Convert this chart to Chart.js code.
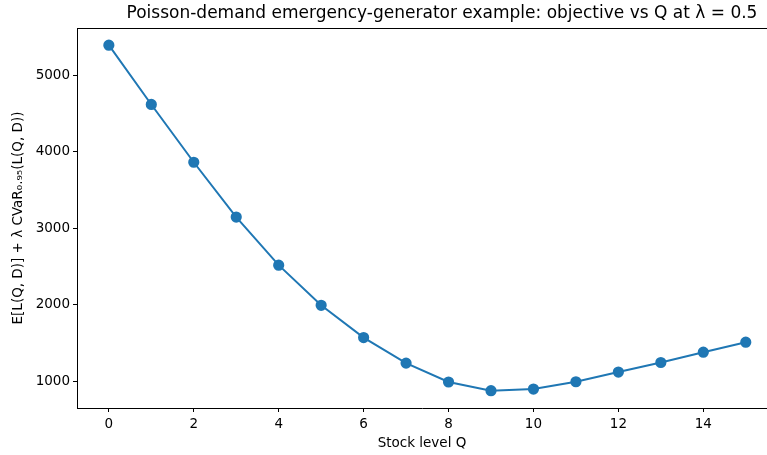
<!DOCTYPE html>
<html>
<head>
<meta charset="utf-8">
<script src="https://cdn.jsdelivr.net/npm/chart.js@4"></script>
<style>
  body { margin: 0; background: #fff; overflow: hidden; }
  #wrap { width: 767px; height: 455px; }
</style>
</head>
<body>
<div id="wrap"><canvas id="objective-chart"></canvas></div>
<script>
const stockLevels = [0, 1, 2, 3, 4, 5, 6, 7, 8, 9, 10, 11, 12, 13, 14, 15];
const objective = [5395, 4620, 3864, 3147, 2518, 1993, 1571, 1237, 990, 876, 898, 993, 1120, 1245, 1380, 1511];
const xTicks = [0, 2, 4, 6, 8, 10, 12, 14];
const yTicks = [1000, 2000, 3000, 4000, 5000];

const titleText = "Poisson-demand emergency-generator example: objective vs Q at λ = 0.5";
const fontFamily = "'DejaVu Sans', sans-serif";

// title sits over the (wider) matplotlib axes, and the top spine
const framePlugin = {
  id: "frame",
  afterDraw(chart) {
    const { ctx, chartArea } = chart;
    ctx.save();
    ctx.strokeStyle = "#000";
    ctx.lineWidth = 1;
    ctx.beginPath();
    ctx.moveTo(chartArea.left, chartArea.top + 0.5);
    ctx.lineTo(chartArea.right, chartArea.top + 0.5);
    ctx.stroke();
    ctx.fillStyle = "#000";
    ctx.font = "17px " + fontFamily;
    ctx.textAlign = "center";
    ctx.textBaseline = "middle";
    ctx.fillText(titleText, 442, 14);
    ctx.restore();
  },
};

const ctx = document.getElementById("objective-chart");

new Chart(ctx, {
  type: "line",
  data: {
    datasets: [
      {
        data: stockLevels.map((q, i) => ({ x: q, y: objective[i] })),
        borderColor: "#1f77b4",
        backgroundColor: "#1f77b4",
        borderWidth: 2,
        pointRadius: 4.6,
        pointHoverRadius: 4.6,
        fill: false,
        tension: 0,
      },
    ],
  },
  options: {
    responsive: true,
    maintainAspectRatio: false,
    animation: false,
    layout: { autoPadding: false, padding: { top: 28, right: 0, left: 0, bottom: 0 } },
    plugins: {
      legend: { display: false },
      title: { display: false },
      tooltip: { enabled: false },
    },
    scales: {
      x: {
        type: "linear",
        min: -0.75,
        max: 15.5,
        afterBuildTicks: (scale) => { scale.ticks = xTicks.map((v) => ({ value: v })); },
        afterFit: (scale) => {
          scale.height = 47;
          scale.paddingLeft = 0;
          scale.paddingRight = 0;
        },
        grid: { drawOnChartArea: false, drawTicks: true, tickLength: 4, color: "#000" },
        border: { display: true, color: "#000", width: 1 },
        ticks: { color: "#000", font: { family: fontFamily, size: 13.5 }, padding: 4, maxRotation: 0 },
        title: {
          display: true,
          text: "Stock level Q",
          color: "#000",
          font: { family: fontFamily, size: 13.5 },
          padding: { top: 2, bottom: 3 },
        },
      },
      y: {
        min: 650,
        max: 5620,
        afterBuildTicks: (scale) => { scale.ticks = yTicks.map((v) => ({ value: v })); },
        afterFit: (scale) => { scale.width = 77; },
        grid: { drawOnChartArea: false, drawTicks: true, tickLength: 4, color: "#000" },
        border: { display: true, color: "#000", width: 1 },
        ticks: {
          color: "#000",
          font: { family: fontFamily, size: 13.5 },
          padding: 3,
          callback: (v) => String(v),
        },
        title: {
          display: true,
          text: "E[L(Q, D)] + λ CVaR₀.₉₅(L(Q, D))",
          color: "#000",
          font: { family: fontFamily, size: 13.5 },
          padding: { top: 10, bottom: 4 },
        },
      },
    },
  },
  plugins: [framePlugin],
});
</script>
</body>
</html>
